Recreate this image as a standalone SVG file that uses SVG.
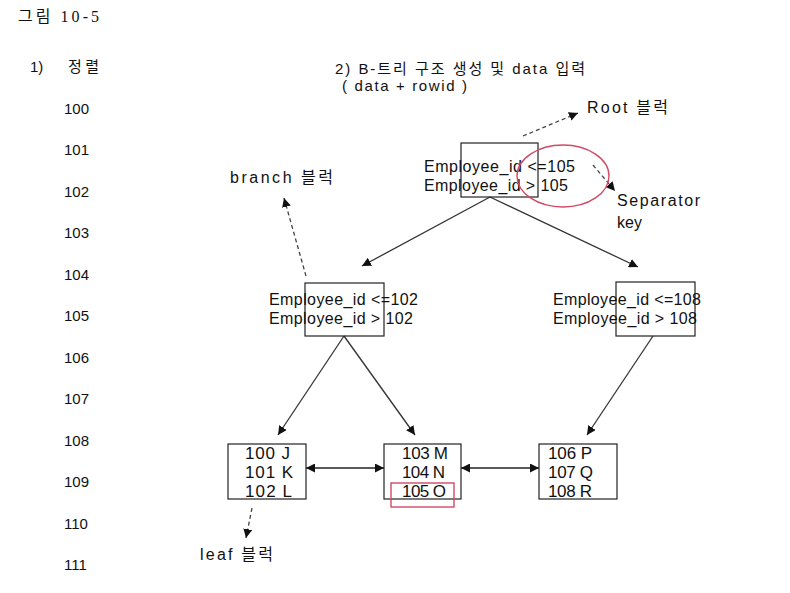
<svg xmlns="http://www.w3.org/2000/svg" width="790" height="593" viewBox="0 0 790 593">
<defs>
<marker id="ah" viewBox="0 0 10 10" refX="10" refY="5" markerWidth="9" markerHeight="9" markerUnits="userSpaceOnUse" orient="auto-start-reverse">
<path d="M0,0 L10,5 L0,10 z" fill="#111"/>
</marker>
</defs>
<style>
text{font-family:"Liberation Sans","Noto Sans CJK KR",sans-serif;fill:#111}
.t{font-size:15px}
.ts{font-family:"Liberation Serif","Noto Sans CJK KR",serif;font-size:16px}
.n{font-size:15px}
.e{font-size:16px}
.l{font-size:17px}
.box{fill:none;stroke:#222;stroke-width:1.2}
.ln{fill:none;stroke:#333;stroke-width:1.3;marker-end:url(#ah)}
.dl{fill:none;stroke:#444;stroke-width:1.3;stroke-dasharray:4,3;marker-end:url(#ah)}
.dbl{fill:none;stroke:#222;stroke-width:1.3;marker-start:url(#ah);marker-end:url(#ah)}
.red{fill:none;stroke:#d04a66;stroke-width:1.4}
</style>
<rect width="790" height="593" fill="#fff"/>

<g id="headings">
<text class="ts" x="18" y="22" textLength="81">그림 10-5</text>
<text class="t" x="30" y="72">1)</text>
<text class="t" x="68" y="72" textLength="31">정렬</text>
<text class="t" x="335" y="74" textLength="250">2) B-트리 구조 생성 및 data 입력</text>
<text class="t" x="342" y="91" textLength="125">( data + rowid )</text>
</g>

<g id="sorted-list">
<text class="n" x="64" y="113.5">100</text>
<text class="n" x="64" y="155">101</text>
<text class="n" x="64" y="196.5">102</text>
<text class="n" x="64" y="238">103</text>
<text class="n" x="64" y="279.5">104</text>
<text class="n" x="64" y="321">105</text>
<text class="n" x="64" y="362.5">106</text>
<text class="n" x="64" y="404">107</text>
<text class="n" x="64" y="445.5">108</text>
<text class="n" x="64" y="487">109</text>
<text class="n" x="64" y="528.5">110</text>
<text class="n" x="64" y="570">111</text>
</g>

<g id="connectors">
<line class="ln" x1="490" y1="197" x2="362" y2="266"/>
<line class="ln" x1="490" y1="197" x2="638" y2="267"/>
<line class="ln" x1="344" y1="336" x2="278" y2="435"/>
<line class="ln" x1="344" y1="336" x2="415" y2="435"/>
<line class="ln" x1="653" y1="336" x2="587" y2="435"/>
<line class="dbl" x1="306" y1="468" x2="384" y2="468"/>
<line class="dbl" x1="461" y1="468" x2="539" y2="468"/>
<line class="dl" x1="523" y1="136" x2="578" y2="113"/>
<line class="dl" x1="593" y1="165" x2="615" y2="191"/>
<line class="dl" x1="306" y1="276" x2="284" y2="198"/>
<line class="dl" x1="252" y1="508" x2="246" y2="538"/>
</g>

<g id="root">
<rect class="box" x="461" y="143" width="77" height="54"/>
<text class="e" x="424" y="172" textLength="151">Employee_id &lt;=105</text>
<text class="e" x="424" y="191" textLength="144">Employee_id &gt; 105</text>
<ellipse class="red" cx="563" cy="176" rx="46" ry="31"/>
</g>

<g id="root-label">
<text class="e" x="587" y="113" textLength="81">Root 블럭</text>
</g>

<g id="separator-label">
<text class="e" x="617" y="206" textLength="83">Separator</text>
<text class="e" x="617" y="228">key</text>
</g>

<g id="branch-left">
<rect class="box" x="305" y="283" width="79" height="53"/>
<text class="e" x="269" y="305" textLength="149">Employee_id &lt;=102</text>
<text class="e" x="269" y="324" textLength="144">Employee_id &gt; 102</text>
</g>

<g id="branch-label">
<text class="e" x="230" y="183" textLength="103">branch 블럭</text>
</g>

<g id="branch-right">
<rect class="box" x="616" y="282" width="79" height="54"/>
<text class="e" x="553" y="305" textLength="148">Employee_id &lt;=108</text>
<text class="e" x="553" y="324" textLength="144">Employee_id &gt; 108</text>
</g>

<g id="leaf-1">
<rect class="box" x="228" y="444" width="78" height="55"/>
<text class="l" x="245" y="459" textLength="45">100  J</text>
<text class="l" x="245" y="478" textLength="48">101  K</text>
<text class="l" x="245" y="497" textLength="47">102  L</text>
</g>

<g id="leaf-2">
<rect class="box" x="384" y="444" width="77" height="55"/>
<text class="l" x="402" y="459" textLength="46">103 M</text>
<text class="l" x="402" y="478" textLength="43">104 N</text>
<text class="l" x="402" y="497" textLength="44">105 O</text>
<rect class="red" x="391" y="483" width="63" height="24"/>
</g>

<g id="leaf-3">
<rect class="box" x="539" y="444" width="78" height="55"/>
<text class="l" x="548" y="459" textLength="44">106 P</text>
<text class="l" x="548" y="478" textLength="45">107 Q</text>
<text class="l" x="548" y="497" textLength="44">108 R</text>
</g>

<g id="leaf-label">
<text class="e" x="200" y="560" textLength="73">leaf 블럭</text>
</g>
</svg>
